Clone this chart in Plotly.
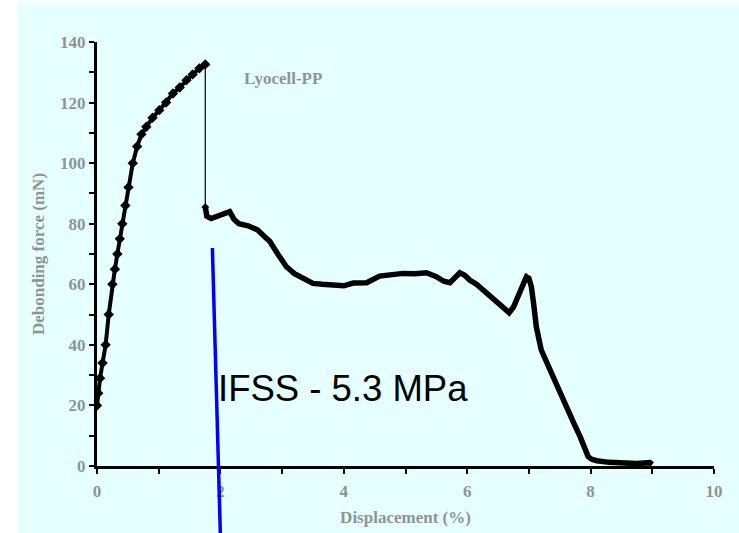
import plotly.graph_objects as go

# Loading branch (displacement %, debonding force mN)
load_x = [0, 0.02, 0.05, 0.09, 0.14, 0.19, 0.25, 0.29, 0.33, 0.37, 0.41, 0.46, 0.51,
          0.58, 0.65, 0.72, 0.80, 0.90, 1.01, 1.12, 1.23, 1.34, 1.45, 1.55, 1.66, 1.755]
load_y = [20, 24, 29, 34, 40, 50, 60, 65, 70, 75, 80, 86, 92,
          100, 105.5, 109.5, 112, 115, 117.5, 120, 123, 125, 127.4, 129.3, 131.3, 132.6]

# Post-debonding branch
post_x = [1.755, 1.78, 1.85, 1.95, 2.05, 2.15, 2.22, 2.30, 2.45, 2.60, 2.74, 2.80, 2.93,
          3.07, 3.20, 3.39, 3.50, 3.65, 3.88, 4.00, 4.15, 4.37, 4.58, 4.75, 4.96, 5.15,
          5.34, 5.50, 5.62, 5.72, 5.80, 5.88, 5.96, 6.04, 6.15, 6.26, 6.42, 6.56, 6.68,
          6.75, 6.83, 6.90, 6.96, 7.00, 7.04, 7.08, 7.12, 7.20, 7.30, 7.39, 7.50, 7.61,
          7.72, 7.83, 7.90, 7.96, 8.02, 8.10, 8.30, 8.53, 8.75, 8.96, 9.00]
post_y = [85.5, 82.5, 81.7, 82.5, 83.0, 84.0, 81.5, 80.0, 79.3, 78.0, 75.3, 74.2, 70.0,
          65.8, 63.5, 61.4, 60.3, 60.0, 59.4, 59.5, 60.4, 60.5, 62.7, 63.2, 63.6, 63.5,
          63.8, 62.5, 61.0, 60.5, 62.0, 63.8, 63.0, 61.4, 60.0, 58.1, 55.3, 53.1, 50.6,
          52.5, 56.4, 60.0, 62.5, 62.0, 59.2, 53.0, 46.0, 38.3, 33.5, 29.5, 24.5, 19.6,
          14.5, 9.7, 6.0, 3.1, 2.2, 1.75, 1.2, 0.9, 0.8, 1.1, 0.5]

# Blue IFSS line (data units)
ifss_x = [1.87, 2.0]
ifss_y = [72, -23]

x_range = [0, 10]
y_range = [0, 140]
x_ticks = [0, 2, 4, 6, 8, 10]
y_ticks = [0, 20, 40, 60, 80, 100, 120, 140]

label_series = "Lyocell-PP"
label_series_pos = (3.01, 128)
label_ifss = "IFSS - 5.3 MPa"
label_ifss_pos = (1.93, 25.6)

BG = "#E6FFFF"
GRAY = "#8E9494"
serif = dict(family="Liberation Serif", size=17, color=GRAY, weight="bold")

fig = go.Figure()
fig.add_trace(go.Scatter(x=load_x, y=load_y, mode="lines+markers",
                         line=dict(color="black", width=4),
                         marker=dict(symbol="diamond", size=8, color="black"),
                         showlegend=False, hoverinfo="skip"))
fig.add_trace(go.Scatter(x=[load_x[-1], post_x[0]], y=[load_y[-1], post_y[0]], mode="lines+markers",
                         line=dict(color="black", width=1.2),
                         marker=dict(symbol="diamond", size=6, color="black"),
                         showlegend=False, hoverinfo="skip"))
fig.add_trace(go.Scatter(x=post_x, y=post_y, mode="lines",
                         line=dict(color="black", width=5.5),
                         showlegend=False, hoverinfo="skip"))

def to_paper_y(v):
    return (v - y_range[0]) / (y_range[1] - y_range[0])

def to_paper_x(v):
    return (v - x_range[0]) / (x_range[1] - x_range[0])

# background panel
fig.add_shape(type="rect", xref="paper", yref="paper", x0=-0.129, x1=1.1, y0=-0.2, y1=1.094,
              fillcolor=BG, line=dict(width=0), layer="below")

fig.add_shape(type="line", xref="paper", yref="paper",
              x0=to_paper_x(ifss_x[0]), x1=to_paper_x(ifss_x[1]),
              y0=to_paper_y(ifss_y[0]), y1=to_paper_y(ifss_y[1]),
              line=dict(color="#0000FF", width=3.5), layer="above")

fig.add_annotation(x=label_series_pos[0], y=label_series_pos[1], text=label_series,
                   showarrow=False, font=serif, xanchor="center", yanchor="middle")
fig.add_annotation(x=label_ifss_pos[0], y=label_ifss_pos[1], text=label_ifss,
                   showarrow=False, font=dict(family="Liberation Sans", size=36.5, color="black"),
                   xanchor="left", yanchor="middle")

axis_common = dict(showgrid=False, zeroline=False, showline=True, linecolor="black", linewidth=3,
                   ticks="outside", ticklen=5, tickwidth=2, tickcolor="black",
                   tickfont=serif, mirror=False)

fig.update_xaxes(range=x_range, tickvals=x_ticks, ticklabelstandoff=3,
                 minor=dict(ticks="outside", ticklen=5, tickwidth=2, tickcolor="black", dtick=1, tick0=0),
                 title=dict(text="Displacement (%)", font=serif, standoff=11), **axis_common)
fig.update_yaxes(range=y_range, tickvals=y_ticks,
                 minor=dict(ticks="outside", ticklen=5, tickwidth=2, tickcolor="black", dtick=10, tick0=0),
                 title=dict(text="Debonding force (mN)", font=serif, standoff=12), **axis_common)

fig.update_layout(width=739, height=533, paper_bgcolor="white", plot_bgcolor=BG,
                  margin=dict(l=97, r=25, t=42, b=67, autoexpand=False))

fig.write_html("out.html", config={"displayModeBar": False},
               post_script="document.body.style.margin='0px';")
